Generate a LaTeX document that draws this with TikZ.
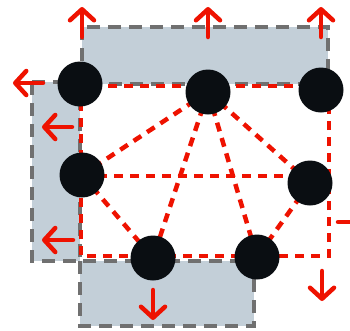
\documentclass[tikz,border=0pt]{standalone}
\usetikzlibrary{arrows.meta}
\definecolor{boxfill}{RGB}{195,207,216}
\definecolor{boxedge}{RGB}{112,112,112}
\definecolor{myred}{RGB}{238,18,0}
\definecolor{dotblack}{RGB}{10,14,18}
\begin{document}
\begin{tikzpicture}[x=1pt,y=-1pt,
  gbox/.style={fill=boxfill, draw=boxedge, line width=4pt, dash pattern=on 13pt off 8pt},
  rline/.style={draw=myred, line width=4.5pt, dash pattern=on 9pt off 7pt},
  outarrow/.style={draw=myred, line width=4.5pt, line cap=round,
    -{Straight Barb[length=11pt,width=24pt,line cap=round,line join=round]}},
  dot/.style={circle, fill=dotblack, minimum size=45pt, inner sep=0pt}]
\useasboundingbox (0,0) rectangle (350,330);
% grey boxes
\path[gbox] (82,27) rectangle (328,84);
\path[gbox] (32,82) rectangle (80,261);
\path[gbox] (80,261) rectangle (254,326);
% node positions
\coordinate (A) at (80,84);
\coordinate (B) at (208,92);
\coordinate (C) at (321,90);
\coordinate (D) at (82,175);
\coordinate (E) at (310,183);
\coordinate (F) at (153,258);
\coordinate (G) at (257,257);
\coordinate (R1) at (81,86);
\coordinate (R2) at (329,256);
% red dashed lines
\path[rline] (R1) rectangle (R2);
\path[rline] (82,176) -- (300,176);
\path[rline] (B) -- (D);
\path[rline] (B) -- (F);
\path[rline] (B) -- (G);
\path[rline] (B) -- (E);
\path[rline] (D) -- (F);
\path[rline] (E) -- (G);
% arrows
\coordinate (u1s) at (82,37);  \coordinate (u1e) at (82,7);
\coordinate (u2s) at (208,37); \coordinate (u2e) at (208,7);
\coordinate (u3s) at (321,37); \coordinate (u3e) at (321,7);
\coordinate (l1s) at (43,83);  \coordinate (l1e) at (13,83);
\coordinate (l2s) at (72,127); \coordinate (l2e) at (42,127);
\coordinate (l3s) at (73,240); \coordinate (l3e) at (42,240);
\coordinate (d1s) at (153,290); \coordinate (d1e) at (153,320);
\coordinate (d2s) at (322,271); \coordinate (d2e) at (322,301);
\coordinate (r1s) at (338,222); \coordinate (r1e) at (368,222);
\foreach \s/\e in {u1s/u1e,u2s/u2e,u3s/u3e,l1s/l1e,l2s/l2e,l3s/l3e,d1s/d1e,d2s/d2e,r1s/r1e}
  \draw[outarrow] (\s) -- (\e);
% dots
\node[dot] (nA) at (A) {};
\node[dot] (nB) at (B) {};
\node[dot] (nC) at (C) {};
\node[dot] (nD) at (D) {};
\node[dot] (nE) at (E) {};
\node[dot] (nF) at (F) {};
\node[dot] (nG) at (G) {};
\end{tikzpicture}
\end{document}
